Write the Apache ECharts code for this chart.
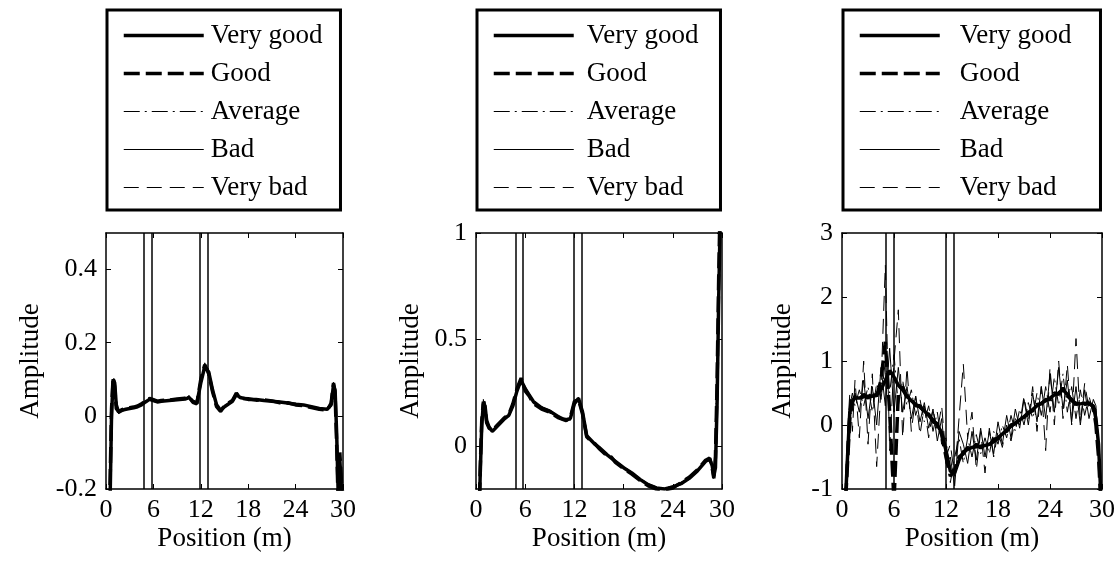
<!DOCTYPE html>
<html>
<head>
<meta charset="utf-8">
<script src="https://cdn.jsdelivr.net/npm/echarts@6/dist/echarts.min.js"></script>
<style>
html, body { margin: 0; padding: 0; background: #fff; }
#chart { width: 1119px; height: 563px; }
</style>
</head>
<body>
<div id="chart"></div>
<script>
var seriesNames = ['Very good', 'Good', 'Average', 'Bad', 'Very bad'];
var xTicks = [0, 6, 12, 18, 24, 30];
var yTicksA = [-0.2, 0, 0.2, 0.4];
var yTicksB = [0, 0.5, 1];
var yTicksC = [-1, 0, 1, 2, 3];

// vertical marker lines (m)
var zonesA = [4.72, 5.78, 11.81, 12.82];
var zonesB = [4.8, 5.69, 11.87, 12.89];
var zonesC = [5.0, 5.92, 11.92, 12.85];

// positions for panels 1 and 2
var posAB = [0.3, 0.5, 0.7, 0.9, 1.1, 1.3, 1.6, 2, 2.5, 3, 3.5, 4, 4.5, 5, 5.5, 6, 6.5, 7, 8, 9,
    10, 10.5, 11, 11.5, 12, 12.5, 13, 13.5, 14, 14.5, 15, 16, 16.5, 17, 18, 19, 20, 21, 22, 23,
    24, 25, 26, 27, 28, 28.5, 28.8, 29, 29.2, 29.4, 29.6, 29.8, 30];

var p1VeryGood = [-0.6,-0.25,0.0,0.1,0.09,0.03,0.01,0.015,0.018,0.02,0.022,0.025,0.03,0.038,0.045,0.042,0.038,0.04,0.042,0.044,0.046,0.05,0.04,0.035,0.09,0.135,0.12,0.07,0.03,0.015,0.025,0.04,0.058,0.05,0.045,0.045,0.042,0.04,0.038,0.035,0.032,0.03,0.025,0.02,0.018,0.03,0.085,0.07,-0.05,-0.22,-0.12,-0.2,-0.25];
var p1Good = [-0.55,-0.2,0.02,0.105,0.08,0.02,0.012,0.017,0.02,0.022,0.024,0.027,0.033,0.04,0.048,0.044,0.04,0.042,0.043,0.046,0.048,0.052,0.037,0.033,0.1,0.14,0.115,0.065,0.025,0.012,0.028,0.042,0.062,0.048,0.047,0.043,0.044,0.041,0.036,0.036,0.03,0.028,0.023,0.018,0.015,0.035,0.09,0.06,-0.08,-0.25,-0.1,-0.18,-0.22];
var p1Average = [-0.5,-0.22,0.01,0.095,0.1,0.04,0.008,0.013,0.02,0.018,0.025,0.023,0.028,0.036,0.05,0.04,0.036,0.043,0.04,0.045,0.044,0.055,0.042,0.038,0.085,0.13,0.125,0.075,0.035,0.018,0.022,0.038,0.055,0.052,0.043,0.047,0.04,0.042,0.04,0.033,0.034,0.029,0.026,0.022,0.016,0.028,0.08,0.075,-0.03,-0.2,-0.14,-0.21,-0.3];
var p1Bad = [-0.65,-0.28,-0.02,0.09,0.095,0.035,0.015,0.012,0.016,0.023,0.02,0.028,0.03,0.04,0.046,0.046,0.041,0.038,0.045,0.042,0.047,0.048,0.043,0.036,0.095,0.145,0.118,0.068,0.028,0.014,0.026,0.041,0.06,0.049,0.046,0.044,0.043,0.039,0.039,0.034,0.031,0.031,0.024,0.021,0.017,0.032,0.088,0.065,-0.06,-0.24,-0.11,-0.19,-0.28];
var p1VeryBad = [-0.7,-0.3,-0.03,0.11,0.085,0.025,0.005,0.018,0.015,0.02,0.026,0.024,0.035,0.035,0.05,0.043,0.037,0.044,0.041,0.047,0.045,0.056,0.038,0.034,0.092,0.14,0.128,0.072,0.032,0.01,0.03,0.036,0.063,0.047,0.048,0.042,0.045,0.038,0.041,0.032,0.035,0.027,0.027,0.019,0.02,0.026,0.092,0.058,-0.04,-0.23,-0.13,-0.17,-0.26];

var p2VeryGood = [-0.5,-0.15,0.1,0.2,0.19,0.12,0.09,0.07,0.09,0.11,0.13,0.145,0.19,0.26,0.31,0.27,0.24,0.21,0.18,0.165,0.14,0.13,0.125,0.13,0.2,0.225,0.16,0.05,0.03,0.01,-0.005,-0.04,-0.055,-0.07,-0.1,-0.125,-0.155,-0.18,-0.195,-0.2,-0.19,-0.175,-0.15,-0.115,-0.07,-0.06,-0.09,-0.14,-0.1,0.2,0.7,1.1,1.3];
var p2Good = [-0.45,-0.12,0.12,0.21,0.18,0.11,0.085,0.075,0.095,0.115,0.135,0.15,0.2,0.27,0.32,0.26,0.235,0.2,0.175,0.16,0.135,0.128,0.12,0.135,0.21,0.22,0.15,0.045,0.025,0.012,-0.01,-0.045,-0.05,-0.075,-0.105,-0.13,-0.16,-0.185,-0.2,-0.205,-0.195,-0.17,-0.145,-0.11,-0.065,-0.055,-0.1,-0.15,-0.05,0.3,0.8,1.2,1.4];
var p2Average = [-0.55,-0.18,0.08,0.19,0.2,0.13,0.095,0.068,0.085,0.105,0.128,0.14,0.185,0.25,0.3,0.28,0.245,0.215,0.185,0.17,0.145,0.135,0.13,0.125,0.19,0.23,0.17,0.055,0.035,0.008,-0.002,-0.035,-0.06,-0.065,-0.095,-0.12,-0.15,-0.175,-0.19,-0.195,-0.185,-0.18,-0.155,-0.12,-0.075,-0.065,-0.08,-0.13,-0.12,0.15,0.6,1.0,1.2];
var p2Bad = [-0.6,-0.2,0.06,0.18,0.21,0.125,0.092,0.072,0.092,0.108,0.132,0.148,0.195,0.265,0.305,0.275,0.238,0.205,0.178,0.162,0.142,0.132,0.122,0.128,0.205,0.228,0.158,0.052,0.028,0.009,-0.008,-0.042,-0.052,-0.072,-0.102,-0.128,-0.158,-0.182,-0.198,-0.198,-0.192,-0.172,-0.148,-0.112,-0.068,-0.058,-0.095,-0.145,-0.08,0.25,0.75,1.15,1.35];
var p2VeryBad = [-0.65,-0.22,0.05,0.22,0.17,0.1,0.1,0.065,0.088,0.112,0.125,0.155,0.18,0.255,0.315,0.265,0.25,0.2,0.19,0.155,0.148,0.125,0.128,0.122,0.215,0.22,0.165,0.058,0.032,0.015,-0.012,-0.038,-0.058,-0.068,-0.098,-0.132,-0.152,-0.188,-0.192,-0.21,-0.188,-0.168,-0.152,-0.118,-0.072,-0.062,-0.085,-0.16,-0.09,0.1,0.65,1.05,1.25];

// positions for panel 3
var posC = [0.3, 0.6, 0.9, 1.2, 1.5, 2, 2.5, 3, 3.5, 4, 4.5, 5, 5.5, 6, 6.5, 7, 7.5, 8, 8.5, 9, 9.5,
    10, 10.5, 11, 11.5, 12, 12.5, 13, 13.5, 14, 14.5, 15, 15.5, 16, 16.5, 17, 17.5, 18, 18.5, 19, 19.5,
    20, 20.5, 21, 21.5, 22, 22.5, 23, 23.5, 24, 24.5, 25, 25.5, 26, 26.5, 27, 27.5, 28, 28.5, 29,
    29.3, 29.6, 29.9];

var p3VeryGood = [-1.5,-0.6,0.2,0.38,0.42,0.42,0.44,0.45,0.45,0.48,0.55,0.7,0.85,0.75,0.62,0.55,0.45,0.38,0.32,0.28,0.22,0.15,0.08,0.0,-0.12,-0.4,-0.72,-0.75,-0.55,-0.42,-0.38,-0.35,-0.34,-0.33,-0.32,-0.3,-0.26,-0.2,-0.14,-0.08,-0.02,0.03,0.08,0.13,0.18,0.24,0.3,0.34,0.38,0.42,0.47,0.5,0.55,0.48,0.38,0.34,0.33,0.34,0.33,0.3,0.1,-0.3,-1.2];
var p3Good = [-1.5,-0.7,0.1,0.35,0.45,0.4,0.48,0.42,0.5,0.45,0.7,1.3,0.2,-1.2,0.5,0.6,0.42,0.4,0.3,0.3,0.2,0.17,0.05,0.02,-0.15,-0.5,-0.8,-0.7,-0.5,-0.45,-0.35,-0.38,-0.3,-0.36,-0.3,-0.33,-0.22,-0.22,-0.12,-0.1,0.0,0.02,0.1,0.12,0.2,0.22,0.32,0.33,0.4,0.4,0.5,0.48,0.58,0.45,0.4,0.32,0.35,0.32,0.35,0.28,0.0,-0.5,-1.3];
var p3Average = [-1.4,-0.5,0.3,0.5,0.3,0.55,0.3,0.6,0.2,0.65,0.4,1.0,0.5,1.1,0.3,0.7,0.3,0.55,0.15,0.4,0.05,0.3,-0.1,0.2,-0.3,-0.2,-0.9,-0.5,-0.2,-0.6,-0.2,-0.5,-0.15,-0.45,-0.2,-0.45,-0.1,-0.3,0.0,-0.2,0.15,-0.1,0.25,0.0,0.35,0.1,0.5,0.15,0.6,0.2,0.75,0.3,0.8,0.2,0.6,0.1,0.55,0.15,0.45,0.2,0.2,-0.2,-1.1];
var p3Bad = [-1.3,-0.4,0.4,0.3,0.5,0.2,0.7,0.1,0.6,0.0,0.9,0.3,1.2,0.2,0.9,0.2,0.6,0.1,0.45,0.05,0.35,-0.05,0.25,-0.25,0.1,-0.6,-0.5,-0.95,-0.1,-0.3,-0.6,-0.1,-0.55,-0.05,-0.5,-0.1,-0.45,0.05,-0.3,0.15,-0.2,0.25,-0.05,0.4,0.0,0.5,0.05,0.6,0.1,0.8,0.2,0.9,0.25,0.7,0.05,0.6,0.0,0.55,0.1,0.4,0.3,-0.4,-1.2];
var p3VeryBad = [-1.2,-0.2,0.5,-0.1,0.7,-0.2,1.0,-0.3,0.8,-0.65,0.6,2.5,-0.4,1.0,1.8,-0.2,0.9,-0.1,0.45,-0.15,0.3,-0.2,0.25,-0.1,0.3,-0.5,-0.3,-0.8,0.1,0.95,-0.2,0.2,-0.7,-0.1,-0.75,-0.05,-0.5,-0.1,-0.35,0.0,-0.25,0.1,0.0,0.45,0.05,0.6,-0.1,0.6,-0.4,0.9,0.0,1.0,0.1,0.95,0.0,1.35,0.05,0.65,0.25,0.3,0.25,-0.5,-1.3];

var serif = 'Liberation Serif';
var lineStyles = [
    { width: 3.5, type: 'solid' },
    { width: 3.5, type: [16, 6] },
    { width: 1, type: [16, 5, 2, 5] },
    { width: 1, type: 'solid' },
    { width: 1, type: [15, 8] }
];

function pairs(xs, ys) {
    var out = [];
    for (var i = 0; i < xs.length && i < ys.length; i++) {
        out.push([xs[i], ys[i]]);
    }
    return out;
}

function panelSeries(gi, xs, sets, zones) {
    var list = [];
    for (var k = 0; k < seriesNames.length; k++) {
        var s = {
            name: seriesNames[k],
            type: 'line',
            xAxisIndex: gi,
            yAxisIndex: gi,
            data: pairs(xs, sets[k]),
            symbol: 'none',
            clip: true,
            lineStyle: { color: '#000', width: lineStyles[k].width, type: lineStyles[k].type },
            itemStyle: { color: '#000' }
        };
        if (k == 0) {
            s.markLine = {
                silent: true,
                symbol: ['none', 'none'],
                label: { show: false },
                lineStyle: { color: '#000', width: 1.5, type: 'solid' },
                data: zones.map(function (v) { return { xAxis: v }; })
            };
        }
        list.push(s);
    }
    return list;
}

function xAxisFor(gi, pos) {
    var bottom = pos == 'bottom';
    return {
        type: 'value', gridIndex: gi, position: pos, min: 0, max: 30,
        name: bottom ? 'Position (m)' : '', nameLocation: 'middle', nameGap: 36,
        nameTextStyle: { fontFamily: serif, fontSize: 27, color: '#000' },
        axisLine: { show: true, onZero: false, lineStyle: { color: '#000', width: 1.5 } },
        axisTick: { show: true, inside: true, length: 5, customValues: xTicks, lineStyle: { color: '#000' } },
        axisLabel: { show: bottom, customValues: xTicks, margin: 8, fontFamily: serif, fontSize: 26, color: '#000' },
        splitLine: { show: false }
    };
}

function yAxisFor(gi, pos, min, max, ticks, gap) {
    var left = pos == 'left';
    return {
        type: 'value', gridIndex: gi, position: pos, min: min, max: max,
        name: left ? 'Amplitude' : '', nameLocation: 'middle', nameGap: gap,
        nameTextStyle: { fontFamily: serif, fontSize: 27, color: '#000' },
        axisLine: { show: true, onZero: false, lineStyle: { color: '#000', width: 1.5 } },
        axisTick: { show: true, inside: true, length: 5, customValues: ticks, lineStyle: { color: '#000' } },
        axisLabel: { show: left, customValues: ticks, margin: 9, fontFamily: serif, fontSize: 26, color: '#000' },
        splitLine: { show: false }
    };
}

function legendFor(left, textPad, padRight) {
    var items = [];
    for (var k = 0; k < seriesNames.length; k++) {
        items.push({
            name: seriesNames[k],
            itemStyle: { opacity: 0 },
            lineStyle: { color: '#000', width: lineStyles[k].width, type: lineStyles[k].type }
        });
    }
    return {
        left: left, top: 10, orient: 'vertical',
        data: items,
        selectedMode: false,
        itemWidth: 80, itemHeight: 14, itemGap: 7,
        padding: [10, padRight, 7, 15],
        borderColor: '#000', borderWidth: 3,
        itemStyle: { opacity: 0 },
        textStyle: { fontFamily: serif, fontSize: 27, color: '#000', lineHeight: 31, padding: [0, 0, 0, textPad] }
    };
}

function madeChart() {
    var myChart = echarts.init(document.getElementById('chart'));

    var series = []
        .concat(panelSeries(0, posAB, [p1VeryGood, p1Good, p1Average, p1Bad, p1VeryBad], zonesA))
        .concat(panelSeries(1, posAB, [p2VeryGood, p2Good, p2Average, p2Bad, p2VeryBad], zonesB))
        .concat(panelSeries(2, posC, [p3VeryGood, p3Good, p3Average, p3Bad, p3VeryBad], zonesC));

    var option = {
        animation: false,
        backgroundColor: '#fff',
        legend: [
            legendFor(107, 2, 18),
            legendFor(477, 8, 22),
            legendFor(843, 15, 29)
        ],
        grid: [
            { left: 106, top: 233, width: 237, height: 256 },
            { left: 476, top: 233, width: 246, height: 256 },
            { left: 842, top: 233, width: 260, height: 256 }
        ],
        xAxis: [
            xAxisFor(0, 'bottom'), xAxisFor(1, 'bottom'), xAxisFor(2, 'bottom'),
            xAxisFor(0, 'top'), xAxisFor(1, 'top'), xAxisFor(2, 'top')
        ],
        yAxis: [
            yAxisFor(0, 'left', -0.2, 0.5, yTicksA, 62),
            yAxisFor(1, 'left', -0.2, 1, yTicksB, 52),
            yAxisFor(2, 'left', -1, 3, yTicksC, 46),
            yAxisFor(0, 'right', -0.2, 0.5, yTicksA, 0),
            yAxisFor(1, 'right', -0.2, 1, yTicksB, 0),
            yAxisFor(2, 'right', -1, 3, yTicksC, 0)
        ],
        series: series
    };

    myChart.setOption(option);
}

madeChart();
</script>
</body>
</html>
